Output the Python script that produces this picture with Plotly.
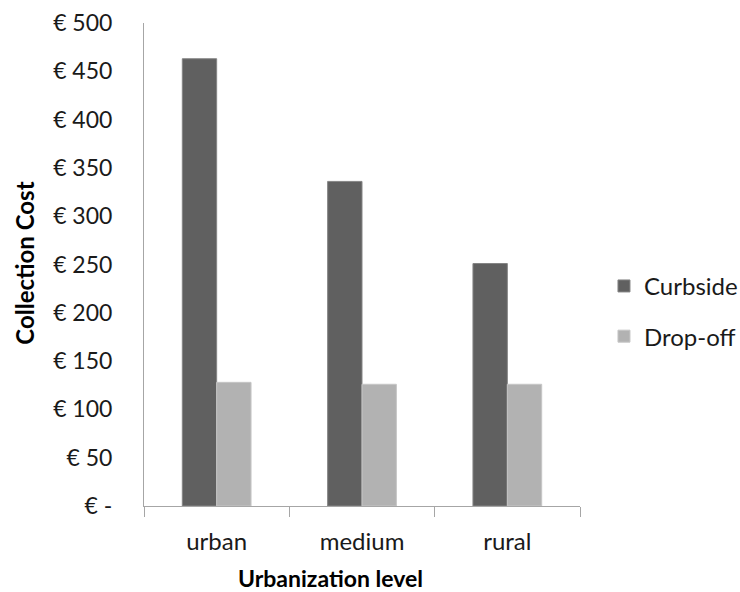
import plotly.graph_objects as go

levels = ["urban", "medium", "rural"]
curbside = [463, 336, 251]
dropoff = [128, 126, 126]
y_ticks = [0, 50, 100, 150, 200, 250, 300, 350, 400, 450, 500]
y_tick_labels = ["€ -", "€ 50", "€ 100", "€ 150", "€ 200", "€ 250",
                 "€ 300", "€ 350", "€ 400", "€ 450", "€ 500"]

FONT = "Lato"
TEXT = "#1a1a1a"
AXIS = "#a6a6a6"

fig = go.Figure()
fig.add_trace(go.Bar(
    x=levels, y=curbside, name="Curbside", legendgroup="a",
    marker=dict(color="#606060", line=dict(color="#858585", width=1)),
))
fig.add_trace(go.Bar(
    x=levels, y=dropoff, name="Drop-off", legendgroup="b",
    marker=dict(color="#b2b2b2", line=dict(color="#c6c6c6", width=1)),
))

fig.update_layout(
    width=740, height=592,
    margin=dict(l=144, r=160, t=23, b=86, autoexpand=False),
    paper_bgcolor="white", plot_bgcolor="white",
    barmode="group", bargap=0.527, bargroupgap=0,
    font=dict(family=FONT, size=23, color=TEXT),
    showlegend=True,
    legend=dict(
        x=1.055, xanchor="left", y=0.403, yanchor="middle",
        traceorder="grouped", tracegroupgap=16,
        font=dict(family=FONT, size=24, color=TEXT),
        bgcolor="rgba(0,0,0,0)",
    ),
    xaxis=dict(
        type="category", showgrid=False, showline=True, linecolor=AXIS,
        linewidth=1, ticks="outside", tickson="boundaries", ticklen=10,
        tickcolor=AXIS, tickfont=dict(family=FONT, size=24, color=TEXT),
        ticklabelstandoff=14,
    ),
    yaxis=dict(
        range=[0, 500], tickmode="array", tickvals=y_ticks,
        ticktext=y_tick_labels, showgrid=False, showline=True,
        linecolor=AXIS, linewidth=1, ticks="", zeroline=False,
        tickfont=dict(family=FONT, size=23, color=TEXT),
        ticklabelstandoff=26,
    ),
    annotations=[
        dict(text="<b>Collection Cost</b>", xref="paper", yref="paper",
             x=-0.275, y=0.502, xanchor="center", yanchor="middle",
             textangle=-90, showarrow=False,
             font=dict(family=FONT, size=24, color="#000000")),
        dict(text="<b>Urbanization level</b>", xref="paper", yref="paper",
             x=0.4275, y=-0.150, xanchor="center", yanchor="middle",
             showarrow=False,
             font=dict(family=FONT, size=23, color="#000000")),
    ],
)

fig.write_html("out.html")
